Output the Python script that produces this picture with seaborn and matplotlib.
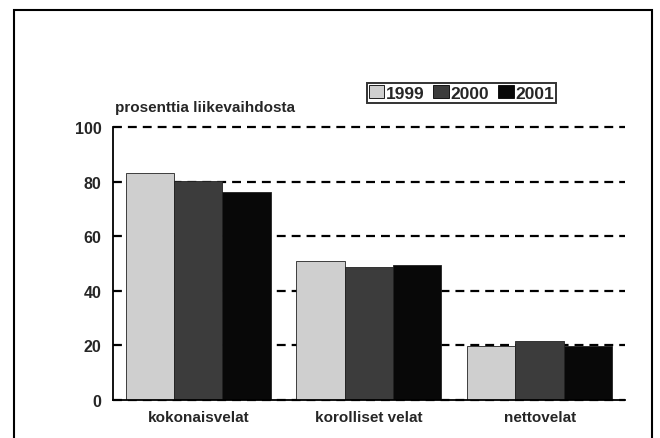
import pandas as pd
import seaborn as sns
import matplotlib.pyplot as plt
import matplotlib.patches as patches

# values (percent of turnover)
categories = ["kokonaisvelat", "korolliset velat", "nettovelat"]
years = ["1999", "2000", "2001"]
v1999 = [83.0, 51.0, 19.8]
v2000 = [80.3, 48.7, 21.6]
v2001 = [76.3, 49.5, 19.7]
yticks = [0, 20, 40, 60, 80, 100]

df = pd.DataFrame({
    "kategoria": categories * 3,
    "vuosi": [y for y in years for _ in categories],
    "arvo": v1999 + v2000 + v2001,
})

sns.set_style("white")
plt.rcParams["font.family"] = ["Liberation Sans", "DejaVu Sans"]

fig = plt.figure(figsize=(6.6, 4.39), dpi=100)
ax = fig.add_axes([0.171, 0.0866, 0.776, 0.622])

palette = {"1999": "#cfcfcf", "2000": "#3c3c3c", "2001": "#080808"}
sns.barplot(data=df, x="kategoria", y="arvo", hue="vuosi", palette=palette,
            width=0.85, gap=0, edgecolor="#222222", linewidth=0.6,
            saturation=1, ax=ax, legend=True)

ax.set_ylim(0, 100)
ax.set_xlim(-0.5, 2.5)
ax.set_yticks(yticks)
ax.set_yticklabels([str(t) for t in yticks], fontweight="bold", fontsize=11.5)
ax.set_xticks(range(len(categories)))
ax.set_xticklabels(categories, fontweight="bold", fontsize=11)
ax.set_xlabel("")
ax.set_ylabel("")
ax.tick_params(axis="y", length=3, width=0.8, pad=5, color="black")
ax.tick_params(axis="x", length=0, pad=7)

ax.set_axisbelow(True)
ax.yaxis.grid(True, color="black", linestyle=(0, (4, 2.7)), linewidth=1.6)
for line in ax.get_ygridlines():
    line.set_clip_on(False)  # keep the 100 line full width
for s in ["top", "right"]:
    ax.spines[s].set_visible(False)
for s in ["left", "bottom"]:
    ax.spines[s].set_color("black")
    ax.spines[s].set_linewidth(1.3)

fig.text(0.174, 0.738, "prosenttia liikevaihdosta", fontweight="bold", fontsize=11,
         ha="left", va="bottom")

leg = ax.legend(loc="center", bbox_to_anchor=(0.699, 0.786), bbox_transform=fig.transFigure,
                ncol=3, frameon=True, fancybox=False, edgecolor="black",
                prop={"weight": "bold", "size": 12.5}, handlelength=0.9, handleheight=0.8,
                handletextpad=0.1, columnspacing=0.5, borderpad=0.1, borderaxespad=0)
leg.get_frame().set_linewidth(1.4)
for h in leg.legend_handles:
    h.set_edgecolor("black")

# outer frame around the whole picture
fig.patches.append(patches.Rectangle((0.021, -0.05), 0.967, 1.025, transform=fig.transFigure,
                                     fill=False, edgecolor="black", linewidth=1.5))

fig.savefig("out.png", dpi=100)
